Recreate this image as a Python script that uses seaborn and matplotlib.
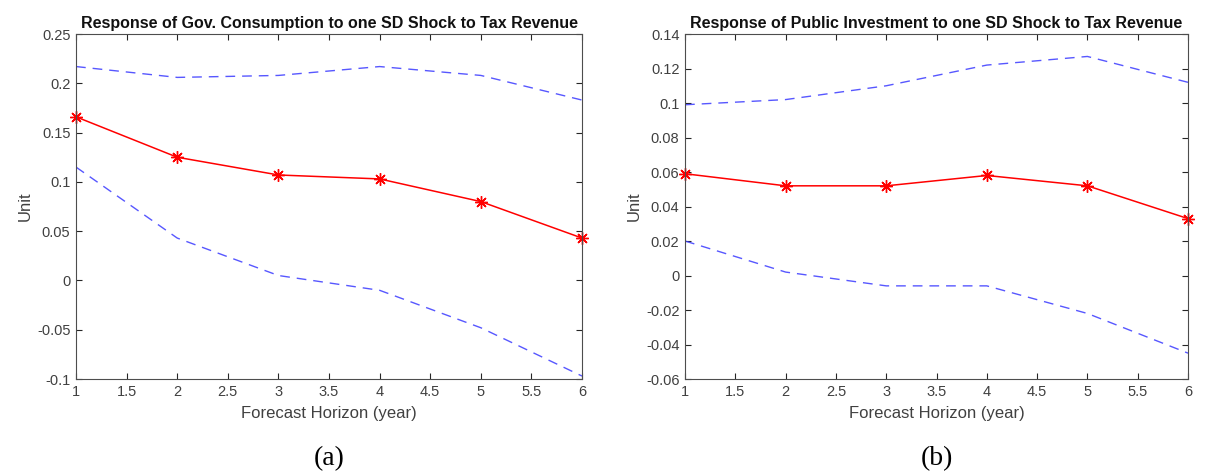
import numpy as np
import pandas as pd
import matplotlib
matplotlib.use("Agg")
import matplotlib.pyplot as plt
import seaborn as sns

# Forecast horizon (years)
horizon = [1, 2, 3, 4, 5, 6]

# (a) Government consumption response
gov_irf = [0.166, 0.125, 0.107, 0.103, 0.080, 0.043]
gov_upper = [0.217, 0.206, 0.208, 0.217, 0.208, 0.183]
gov_lower = [0.115, 0.043, 0.005, -0.010, -0.048, -0.097]

# (b) Public investment response
inv_irf = [0.059, 0.052, 0.052, 0.058, 0.052, 0.033]
inv_upper = [0.099, 0.102, 0.110, 0.122, 0.127, 0.112]
inv_lower = [0.020, 0.002, -0.006, -0.006, -0.022, -0.045]

titles = ["Response of Gov. Consumption to one SD Shock to Tax Revenue",
          "Response of Public Investment to one SD Shock to Tax Revenue"]
captions = ["(a)", "(b)"]
ylims = [(-0.1, 0.25), (-0.06, 0.14)]
ytick_sets = [[-0.1, -0.05, 0, 0.05, 0.1, 0.15, 0.2, 0.25],
              [-0.06, -0.04, -0.02, 0, 0.02, 0.04, 0.06, 0.08, 0.1, 0.12, 0.14]]
xticks = [1, 1.5, 2, 2.5, 3, 3.5, 4, 4.5, 5, 5.5, 6]

sns.set_theme(style="white")
plt.rcParams['font.family'] = ['Liberation Sans', 'DejaVu Sans']

fig = plt.figure(figsize=(12.05, 4.74), dpi=100)
positions = [[0.0631, 0.2004, 0.4199, 0.7278],
             [0.5685, 0.2004, 0.4174, 0.7278]]

panels = [(gov_irf, gov_upper, gov_lower), (inv_irf, inv_upper, inv_lower)]
axis_gray = "#262626"
asterisk = (8, 2, 0)

for i, (irf, up, lo) in enumerate(panels):
    ax = fig.add_axes(positions[i])
    df = pd.DataFrame({"h": horizon, "irf": irf, "up": up, "lo": lo})
    sns.lineplot(data=df, x="h", y="up", ax=ax, color="#3a3aff",
                 linestyle=(0, (7, 5)), linewidth=1.0, alpha=0.85)
    sns.lineplot(data=df, x="h", y="lo", ax=ax, color="#3a3aff",
                 linestyle=(0, (7, 5)), linewidth=1.0, alpha=0.85)
    sns.lineplot(data=df, x="h", y="irf", ax=ax, color="red",
                 linewidth=1.1, marker=asterisk, markersize=9,
                 markeredgecolor="red", markerfacecolor="red",
                 markeredgewidth=1.0, clip_on=False)
    ax.set_xlim(1, 6)
    ax.set_ylim(*ylims[i])
    ax.set_xticks(xticks)
    ax.set_xticklabels([f"{t:g}" for t in xticks])
    ax.set_yticks(ytick_sets[i])
    ax.set_yticklabels([f"{t:g}" for t in ytick_sets[i]])
    ax.tick_params(direction="in", length=4, width=0.8, colors=axis_gray,
                   labelsize=10.5, top=True, right=True, bottom=True, left=True,
                   pad=4)
    ax.tick_params(labelcolor="#404040")
    for s in ax.spines.values():
        s.set_visible(True)
        s.set_color("#4d4d4d")
        s.set_linewidth(0.8)
    ax.set_title(titles[i], fontsize=11.5, fontweight="bold", color="#111111", pad=4)
    ax.set_xlabel("Forecast Horizon (year)", fontsize=12, color="#404040", labelpad=5)
    ax.set_ylabel("Unit", fontsize=12, color="#404040", labelpad=3)
    ax.grid(False)
    cx = positions[i][0] + positions[i][2] / 2
    fig.text(cx, 0.032, captions[i], ha="center", va="center",
             fontsize=20, family=["Liberation Serif", "DejaVu Serif"], color="black")

fig.savefig("out.png", dpi=100, facecolor="white")
